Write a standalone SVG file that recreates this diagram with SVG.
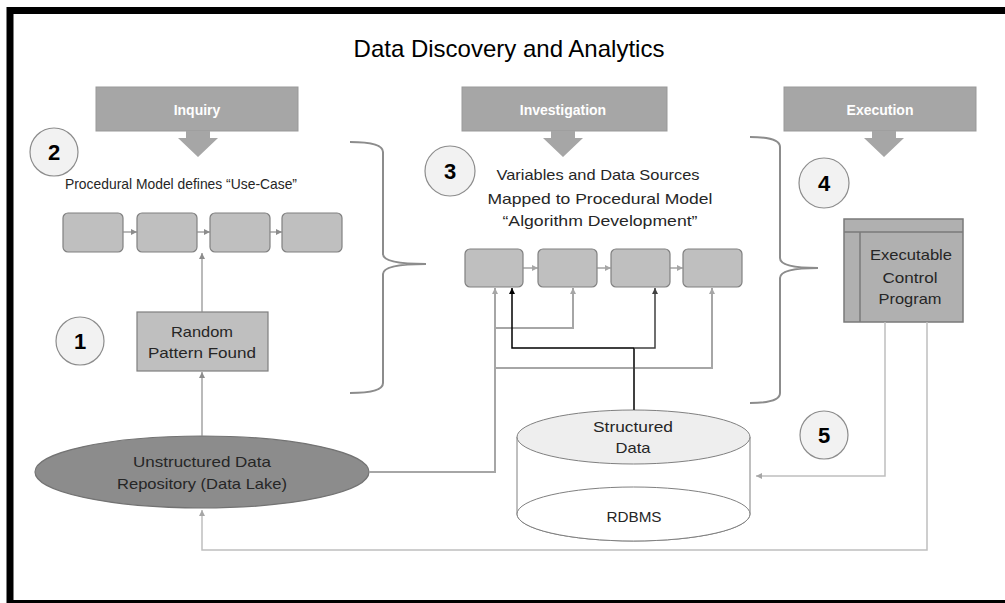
<svg xmlns="http://www.w3.org/2000/svg" width="1005" height="603" viewBox="0 0 1005 603">
  <defs>
    <marker id="ahGray" markerUnits="userSpaceOnUse" markerWidth="8" markerHeight="8" refX="6" refY="4" orient="auto">
      <path d="M0,1 L6,4 L0,7 z" fill="#8c8c8c"/>
    </marker>
    <marker id="ahLight" markerUnits="userSpaceOnUse" markerWidth="8" markerHeight="8" refX="6" refY="4" orient="auto">
      <path d="M0,1 L6,4 L0,7 z" fill="#a6a6a6"/>
    </marker>
    <marker id="ahBlack" markerUnits="userSpaceOnUse" markerWidth="8" markerHeight="8" refX="6" refY="4" orient="auto">
      <path d="M0,1 L6,4 L0,7 z" fill="#000"/>
    </marker>
    <marker id="ahDark" markerUnits="userSpaceOnUse" markerWidth="8" markerHeight="8" refX="6" refY="4" orient="auto">
      <path d="M0,1 L6,4 L0,7 z" fill="#404040"/>
    </marker>
  </defs>
  <style>
    text { font-family: "Liberation Sans", Arial, sans-serif; fill: #262626; text-anchor: middle; }
    .title { font-size: 24px; fill: #000; }
    .hdr { fill: #a6a6a6; stroke: #999; stroke-width: 1; }
    .hdrText { font-size: 14px; font-weight: bold; fill: #fff; }
    .step { fill: #f2f2f2; stroke: #8c8c8c; stroke-width: 1.2; }
    .num { font-size: 22px; font-weight: bold; fill: #000; }
    .lbl { font-size: 15px; }
    .proc { fill: #bfbfbf; stroke: #808080; stroke-width: 1.2; }
    .brace { fill: none; stroke: #8c8c8c; stroke-width: 2; }
    .flow { fill: none; stroke: #8c8c8c; stroke-width: 1.2; }
    .feed { fill: none; stroke: #a6a6a6; stroke-width: 2; }
    .fine { fill: none; stroke: #bfbfbf; stroke-width: 1.5; }
    .black { fill: none; stroke: #000; stroke-width: 1.5; }
  </style>

  <rect x="0" y="0" width="1005" height="603" fill="#fff"/>
  <!-- outer frame -->
  <rect x="10" y="10.5" width="1010" height="593" fill="none" stroke="#000" stroke-width="7"/>

  <text class="title" x="509" y="57">Data Discovery and Analytics</text>

  <!-- phase headers -->
  <g id="inquiry">
    <rect class="hdr" x="96" y="87" width="202" height="44"/>
    <path d="M186,131 L210,131 L210,138 L218,138 L198,157 L178,138 L186,138 z" fill="#a6a6a6"/>
    <text class="hdrText" x="197" y="115">Inquiry</text>
  </g>
  <g id="investigation">
    <rect class="hdr" x="462" y="87" width="205" height="44"/>
    <path d="M551,131 L575,131 L575,138 L583,138 L563,157 L543,138 L551,138 z" fill="#a6a6a6"/>
    <text class="hdrText" x="563" y="115">Investigation</text>
  </g>
  <g id="execution">
    <rect class="hdr" x="784" y="87" width="192" height="44"/>
    <path d="M872,131 L896,131 L896,138 L904,138 L884,157 L864,138 L872,138 z" fill="#a6a6a6"/>
    <text class="hdrText" x="880" y="115">Execution</text>
  </g>

  <!-- step markers -->
  <g id="step1"><circle class="step" cx="80" cy="341" r="24"/><text class="num" x="80" y="349">1</text></g>
  <g id="step2"><circle class="step" cx="54" cy="152" r="24"/><text class="num" x="54" y="160">2</text></g>
  <g id="step3"><circle class="step" cx="450" cy="171" r="25"/><text class="num" x="450" y="179">3</text></g>
  <g id="step4"><circle class="step" cx="824" cy="183" r="25"/><text class="num" x="824" y="191">4</text></g>
  <g id="step5"><circle class="step" cx="824" cy="435" r="24"/><text class="num" x="824" y="443">5</text></g>

  <!-- use-case procedural model -->
  <g id="use-case">
    <text class="lbl" x="181" y="189" textLength="232" lengthAdjust="spacingAndGlyphs">Procedural Model defines “Use-Case”</text>
    <rect class="proc" x="63" y="213" width="60" height="39" rx="5"/>
    <rect class="proc" x="137" y="213" width="60" height="39" rx="5"/>
    <rect class="proc" x="210" y="213" width="60" height="39" rx="5"/>
    <rect class="proc" x="282" y="213" width="60" height="39" rx="5"/>
  </g>

  <!-- algorithm development model -->
  <g id="algorithm">
    <text class="lbl" x="598" y="180" textLength="203" lengthAdjust="spacingAndGlyphs">Variables and Data Sources</text>
    <text class="lbl" x="600" y="204" textLength="225" lengthAdjust="spacingAndGlyphs">Mapped to Procedural Model</text>
    <text class="lbl" x="600" y="226" textLength="195" lengthAdjust="spacingAndGlyphs">“Algorithm Development”</text>
    <rect class="proc" x="465" y="249" width="58" height="38" rx="5"/>
    <rect class="proc" x="538" y="249" width="59" height="38" rx="5"/>
    <rect class="proc" x="611" y="249" width="59" height="38" rx="5"/>
    <rect class="proc" x="683" y="249" width="59" height="38" rx="5"/>
  </g>

  <!-- braces -->
  <g id="braces">
    <path class="brace" d="M350,142 Q383,142 383,152 L383,254 Q383,264 426,264 Q383,264 383,274 L383,383 Q383,393 350,393"/>
    <path class="brace" d="M750,137 Q780,137 780,147 L780,258 Q780,268 818,268 Q780,268 780,278 L780,393 Q780,403 750,403"/>
  </g>

  <g id="random-pattern">
    <rect x="137" y="312" width="131" height="59" fill="#bfbfbf" stroke="#7f7f7f" stroke-width="1.2"/>
    <text class="lbl" x="202" y="337" textLength="62" lengthAdjust="spacingAndGlyphs">Random</text>
    <text class="lbl" x="202" y="358" textLength="108" lengthAdjust="spacingAndGlyphs">Pattern Found</text>
  </g>

  <g id="data-lake">
    <ellipse cx="202" cy="472" rx="167" ry="36" fill="#8c8c8c" stroke="#737373" stroke-width="1.2"/>
    <text class="lbl" x="202" y="467" textLength="138" lengthAdjust="spacingAndGlyphs">Unstructured Data</text>
    <text class="lbl" x="202" y="489" textLength="170" lengthAdjust="spacingAndGlyphs">Repository (Data Lake)</text>
  </g>

  <g id="structured-data">
    <path d="M517,437 L517,514 A116.5,27 0 0 0 750,514 L750,437 z" fill="#fff" stroke="#808080" stroke-width="1"/>
    <ellipse cx="633.5" cy="514" rx="116.5" ry="27" fill="#fff" stroke="#808080" stroke-width="1"/>
    <ellipse cx="633.5" cy="437" rx="116.5" ry="27" fill="#eeeeee" stroke="#808080" stroke-width="1"/>
    <text class="lbl" x="633" y="432" textLength="80" lengthAdjust="spacingAndGlyphs">Structured</text>
    <text class="lbl" x="633" y="453" textLength="35" lengthAdjust="spacingAndGlyphs">Data</text>
    <text class="lbl" x="634" y="522" textLength="55" lengthAdjust="spacingAndGlyphs">RDBMS</text>
  </g>

  <g id="control-program">
    <rect x="844" y="219" width="119" height="103" fill="#b0b0b0" stroke="#7a7a7a" stroke-width="1.5"/>
    <line x1="844" y1="232" x2="963" y2="232" stroke="#7a7a7a" stroke-width="1.5"/>
    <line x1="860" y1="232" x2="860" y2="322" stroke="#7a7a7a" stroke-width="1.5"/>
    <text class="lbl" x="911" y="260" textLength="82" lengthAdjust="spacingAndGlyphs">Executable</text>
    <text class="lbl" x="910" y="283" textLength="55" lengthAdjust="spacingAndGlyphs">Control</text>
    <text class="lbl" x="910" y="304" textLength="63" lengthAdjust="spacingAndGlyphs">Program</text>
  </g>

  <!-- connectors -->
  <g id="connectors">
    <!-- use-case chain -->
    <path class="flow" d="M123,232 L137,232" marker-end="url(#ahGray)"/>
    <path class="flow" d="M197,232 L210,232" marker-end="url(#ahGray)"/>
    <path class="flow" d="M270,232 L282,232" marker-end="url(#ahGray)"/>
    <!-- algorithm chain -->
    <path class="flow" d="M523,268 L538,268" marker-end="url(#ahLight)"/>
    <path class="flow" d="M597,268 L611,268" marker-end="url(#ahLight)"/>
    <path class="flow" d="M670,268 L683,268" marker-end="url(#ahLight)"/>
    <!-- data lake up to pattern, pattern up to model -->
    <path class="flow" stroke-width="2" d="M202,436 L202,372" marker-end="url(#ahGray)"/>
    <path class="flow" stroke-width="2" d="M202,312 L202,253" marker-end="url(#ahGray)"/>
    <!-- data lake feeds the algorithm -->
    <path class="feed" d="M369,472 L495,472 L495,288" marker-end="url(#ahLight)"/>
    <path class="feed" d="M495,328 L573,328 L573,288" marker-end="url(#ahLight)"/>
    <path class="feed" d="M495,368 L712,368 L712,288" marker-end="url(#ahLight)"/>
    <!-- structured data feeds the algorithm -->
    <path fill="none" stroke="#404040" stroke-width="2" d="M634,410 L634,348"/>
    <path class="black" d="M634,348 L512,348 L512,288" marker-end="url(#ahBlack)"/>
    <path fill="none" stroke="#404040" stroke-width="1.5" d="M634,348 L655,348 L655,288" marker-end="url(#ahDark)"/>
    <!-- control program outputs -->
    <path class="fine" d="M885,322 L885,476 L756,476" marker-end="url(#ahLight)"/>
    <path class="fine" d="M927,322 L927,550 L202,550 L202,510" marker-end="url(#ahLight)"/>
  </g>
</svg>
